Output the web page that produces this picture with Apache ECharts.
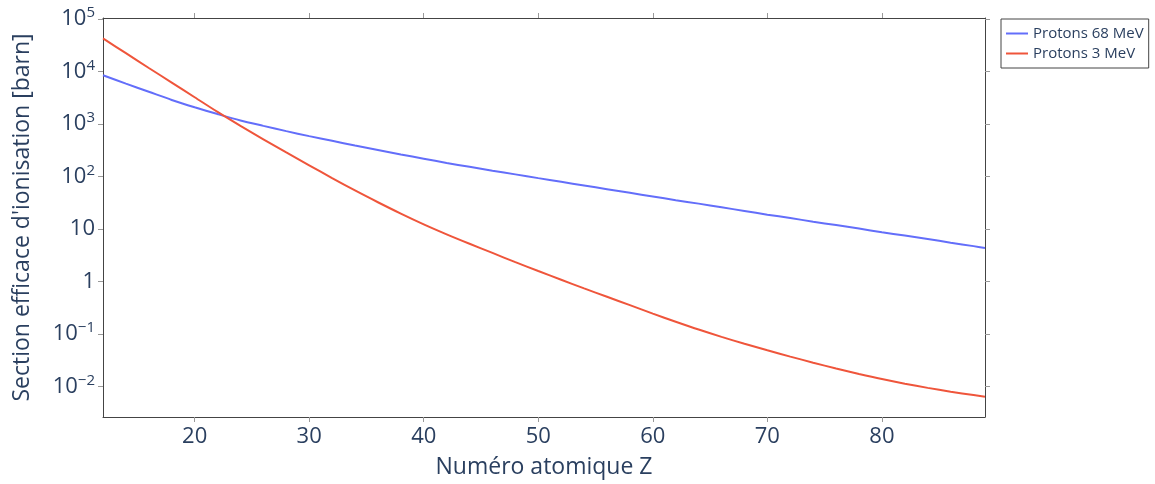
<!DOCTYPE html>
<html><head><meta charset="utf-8">
<script src="https://cdn.jsdelivr.net/npm/echarts@6/dist/echarts.min.js"></script>
<style>html,body{margin:0;padding:0;background:#fff}#c{width:1155px;height:484px}</style>
</head><body><div id="c"></div>
<script>
const Z = [12,14,16,18,20,22,24,26,28,30,32,34,36,38,40,42,44,46,48,50,52,54,56,58,60,62,64,66,68,70,72,74,76,78,80,82,84,86,88,89];
const protons68 = [8510,5890,4120,2880,2090,1550,1170,923,733,589,479,389,320,263,219,182,153,129,110,93.3,79.4,67.6,57.5,49.0,41.7,35.5,30.5,26.0,22.1,18.8,16.2,13.8,11.9,10.2,8.71,7.50,6.46,5.50,4.73,4.37];
const protons3 = [42700,22400,11700,6170,3240,1700,923,513,288,164,93.3,54.3,32.4,19.7,12.3,7.94,5.25,3.51,2.34,1.585,1.084,0.741,0.513,0.355,0.245,0.172,0.122,0.0885,0.0653,0.0490,0.0372,0.0285,0.0221,0.0174,0.0139,0.01135,0.00944,0.00798,0.00687,0.00638];
const seriesNames = ['Protons 68 MeV','Protons 3 MeV'];
const xTicks = [20,30,40,50,60,70,80];
const yTicks = [0.01,0.1,1,10,100,1000,10000,100000];
const xTitle = 'Numéro atomique Z';
const yTitle = "Section efficace d'ionisation [barn]";

const TXT = '#2a3f5f', FONT = '"Open Sans", sans-serif';
const yMin = Math.pow(10,-2.58), yMax = Math.pow(10,5.02);

function yFmt(v){
  const l = Math.log10(v), e = Math.round(l);
  if (Math.abs(l-e) > 1e-6) return '';
  if (e === 0) return '{b|1}';
  if (e === 1) return '{b|10}';
  return '{b|10}{s|' + (e < 0 ? '\u2212' + (-e) : e) + '}';
}
const tickStyle = {show:true, inside:false, length:5, lineStyle:{color:'#999', width:1}};
const lineStyleAxis = {show:true, lineStyle:{color:'#444', width:1}};

const chart = echarts.init(document.getElementById('c'), null, {renderer:'canvas'});
chart.setOption({
  animation:false,
  backgroundColor:'#fff',
  textStyle:{fontFamily:FONT},
  grid:{left:103, right:170, top:18, bottom:67},
  legend:{
    orient:'vertical', left:1001, top:19,
    padding:[7,5,7,5], itemGap:5, itemWidth:22, itemHeight:2,
    borderColor:'#444', borderWidth:1, backgroundColor:'#fff',
    textStyle:{color:TXT, fontSize:15, lineHeight:15, fontFamily:FONT},
    data: seriesNames.map(n => ({name:n, icon:'rect'}))
  },
  xAxis:[{
    type:'value', min:12, max:89, position:'bottom',
    axisLine:lineStyleAxis, splitLine:{show:false},
    axisTick:Object.assign({customValues:xTicks}, tickStyle),
    axisLabel:{customValues:xTicks, color:TXT, fontSize:22, fontFamily:FONT, margin:9},
    name:xTitle, nameLocation:'middle', nameGap:39,
    nameTextStyle:{color:TXT, fontSize:23, fontFamily:FONT}
  },{
    type:'value', min:12, max:89, position:'top',
    axisLine:lineStyleAxis, splitLine:{show:false},
    axisTick:Object.assign({customValues:xTicks}, tickStyle),
    axisLabel:{show:false}
  }],
  yAxis:[{
    type:'log', logBase:10, min:yMin, max:yMax, position:'left',
    axisLine:lineStyleAxis, splitLine:{show:false},
    axisTick:Object.assign({customValues:yTicks}, tickStyle),
    axisLabel:{customValues:yTicks, formatter:yFmt, margin:8,
      rich:{
        b:{color:TXT, fontSize:22, fontFamily:FONT},
        s:{color:TXT, fontSize:15, fontFamily:FONT, padding:[0,0,12,0]}
      }},
    name:yTitle, nameLocation:'middle', nameGap:69, nameRotate:90,
    nameTextStyle:{color:TXT, fontSize:23, fontFamily:FONT}
  },{
    type:'log', logBase:10, min:yMin, max:yMax, position:'right',
    axisLine:lineStyleAxis, splitLine:{show:false},
    axisTick:Object.assign({customValues:yTicks}, tickStyle),
    axisLabel:{show:false}
  }],
  series:[
    {name:seriesNames[0], type:'line', symbol:'none', smooth:0.3,
     lineStyle:{color:'#636efa', width:2}, itemStyle:{color:'#636efa'},
     data:Z.map((z,i)=>[z, protons68[i]])},
    {name:seriesNames[1], type:'line', symbol:'none', smooth:0.3,
     lineStyle:{color:'#EF553B', width:2}, itemStyle:{color:'#EF553B'},
     data:Z.map((z,i)=>[z, protons3[i]])}
  ]
});
</script></body></html>
